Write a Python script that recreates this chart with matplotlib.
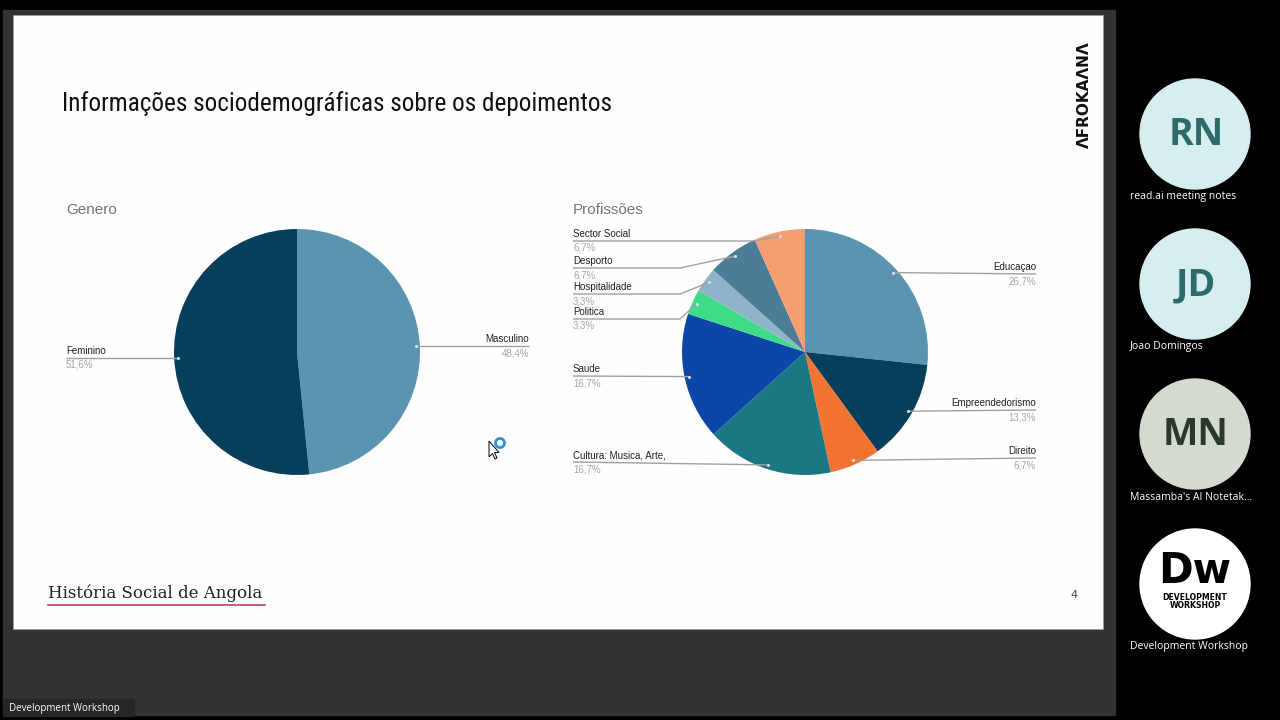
import matplotlib
matplotlib.use("Agg")
import matplotlib.pyplot as plt
from matplotlib.patches import Rectangle, Ellipse, Polygon, Circle
from matplotlib import font_manager
import numpy as np

# ---------------- data ----------------
genero_labels = ["Masculino", "Feminino"]
genero_values = [48.4, 51.6]
genero_pct = ["48,4%", "51,6%"]
genero_colors = ["#5b94b1", "#063f5c"]

prof_labels = ["Educaçao", "Empreendedorismo", "Direito", "Cultura: Musica, Arte,",
               "Saude", "Politica", "Hospitalidade", "Desporto", "Sector Social"]
prof_values = [26.7, 13.3, 6.7, 16.7, 16.7, 3.3, 3.3, 6.7, 6.7]
prof_pct = ["26,7%", "13,3%", "6,7%", "16,7%", "16,7%", "3,3%", "3,3%", "6,7%", "6,7%"]
prof_colors = ["#5b94b1", "#063f5c", "#f37430", "#1b7784", "#0c46a8",
               "#3fdc88", "#8fb4ca", "#4c7d96", "#f59e72"]

participants = ["read.ai meeting notes", "Joao Domingos", "Massamba's AI Notetak...", "Development Workshop"]
initials = ["RN", "JD", "MN", "Dw"]

title = "Informações sociodemográficas sobre os depoimentos"

# ---------------- layout ----------------
W, H = 1280, 720
fig = plt.figure(figsize=(12.8, 7.2), dpi=100)

bg = fig.add_axes([0, 0, 1, 1], zorder=0)
bg.set_xlim(0, W); bg.set_ylim(H, 0); bg.axis("off")
top = fig.add_axes([0, 0, 1, 1], zorder=10)
top.set_xlim(0, W); top.set_ylim(H, 0); top.axis("off")
top.patch.set_visible(False)

# screen backgrounds
bg.add_patch(Rectangle((0, 0), W, H, color="#000000"))
bg.add_patch(Rectangle((3, 10), 1112, 705, color="#323232"))
bg.add_patch(Rectangle((13, 15), 1090, 614, color="#fefefe", ec="#9a9a9a", lw=0.6))


# pick the narrowest installed family for the condensed slide title
def has_family(name):
    try:
        font_manager.findfont(font_manager.FontProperties(family=name), fallback_to_default=False)
        return True
    except Exception:
        return False


title_family = "Roboto"
for cand in ["Noto Sans ExtraCondensed", "Noto Sans Condensed", "Liberation Sans Narrow",
             "DejaVu Sans Condensed", "Roboto Condensed"]:
    if has_family(cand):
        title_family = cand
        break

ttl = bg.text(62, 104, title, fontsize=22, color="#111111",
              family=[title_family, "DejaVu Sans"], va="center", ha="left")
renderer = fig.canvas.get_renderer()
wpx = ttl.get_window_extent(renderer).width
target = 551.0
fs = 22 * target / wpx
ttl.set_fontsize(min(fs, 26))

# footer
bg.text(48, 593, "História Social de Angola", fontsize=12, color="#222222",
        family=["DejaVu Serif"], va="center", ha="left")
bg.plot([48, 265], [605, 605], color="#b8475f", lw=1.2)
bg.text(1074, 595, "4", fontsize=8, color="#444444", va="center", ha="center",
        family=["DejaVu Sans"])

# logo
bg.text(1084, 95, "ΛFROKAΛNΛ", rotation=90, fontsize=11, fontweight="bold",
        color="#111111", va="center", ha="center", family=["DejaVu Sans"])

# chart titles
for x, t in [(66, "Genero"), (573, "Profissões")]:
    bg.text(x, 210, t, fontsize=11, color="#757575", va="center", ha="left",
            family=["Liberation Sans", "DejaVu Sans"])

label_font = ["Liberation Sans", "DejaVu Sans"]


def make_pie(cx, cy, r, values, colors):
    ax = fig.add_axes([(cx - r) / W, (H - cy - r) / H, 2 * r / W, 2 * r / H], zorder=5)
    wedges, _ = ax.pie(values, colors=colors, startangle=90, counterclock=False,
                       radius=1.0, wedgeprops=dict(linewidth=0))
    ax.set_xlim(-1, 1); ax.set_ylim(-1, 1); ax.set_aspect("auto")
    ax.axis("off")
    return ax, wedges


def anchor(ax, w, rr=0.965):
    th = np.deg2rad((w.theta1 + w.theta2) / 2)
    p = ax.transData.transform((rr * np.cos(th), rr * np.sin(th)))
    return top.transData.inverted().transform(p)


def draw_label(name, pct, dot, ly, side, xl):
    dx, dy = dot
    if side == "L":
        if abs(dy - ly) > 4:
            knee = 680 if dx < 745 else dx - 25
            xs, ys = [xl, knee, dx], [ly, ly, dy]
        else:
            xs, ys = [xl, dx], [ly, dy]
        ha = "left"
    else:
        xs, ys = [dx, xl], [dy, ly]
        ha = "right"
    top.plot(xs, ys, color="#a0a0a0", lw=1.0, solid_capstyle="butt")
    top.plot([dx], [dy], "o", ms=2.2, color="#d7e1e6", mec="none")
    top.text(xl, ly - 2, name, fontsize=7, color="#222222", ha=ha, va="bottom", family=label_font)
    top.text(xl, ly + 2, pct, fontsize=7, color="#a6a6a6", ha=ha, va="top", family=label_font)


# Genero pie
gax, gw = make_pie(297, 352, 123, genero_values, genero_colors)
g_side = ["R", "L"]
g_x = [529, 66]
for i, w in enumerate(gw):
    d = anchor(gax, w)
    draw_label(genero_labels[i], genero_pct[i], d, d[1], g_side[i], g_x[i])

# Profissoes pie
pax, pw = make_pie(805, 352, 123, prof_values, prof_colors)
p_side = ["R", "R", "R", "L", "L", "L", "L", "L", "L"]
p_ly = [274, 410, 458, 462, 376, 319, 294, 268, 241]
for i, w in enumerate(pw):
    d = anchor(pax, w)
    draw_label(prof_labels[i], prof_pct[i], d, p_ly[i], p_side[i], 1036 if p_side[i] == "R" else 573)

# cursor
top.add_patch(Polygon([[489, 441], [489, 457], [492.5, 453.5], [495, 459], [497, 458],
                       [494.5, 452.5], [499, 452.5]], closed=True, fc="white", ec="black", lw=0.7))
top.add_patch(Circle((500, 443), 4.5, fc="none", ec="#2f8fd8", lw=2))

# participants panel
circ_colors = ["#d6eef0", "#d6eef0", "#d3dbd0", "#ffffff"]
text_colors = ["#2d6a6b", "#2d6a6b", "#2b3a28", "#000000"]
for i, name in enumerate(participants):
    cy = 134 + 150 * i
    bg.add_patch(Ellipse((1195, cy), 110, 110, color=circ_colors[i]))
    if i < 3:
        bg.text(1196, cy + 1, initials[i], fontsize=27, color=text_colors[i], ha="center",
                va="center", family=["Open Sans", "DejaVu Sans"], fontweight="bold")
    else:
        bg.text(1195, cy - 13, initials[i], fontsize=30, color="#000000", ha="center",
                va="center", family=["DejaVu Sans"], fontweight="bold")
        bg.text(1195, cy + 13, "DEVELOPMENT", fontsize=5.6, color="#000000", ha="center",
                va="center", family=["DejaVu Sans"], fontweight="bold")
        bg.text(1195, cy + 21, "WORKSHOP", fontsize=5.6, color="#000000", ha="center",
                va="center", family=["DejaVu Sans"], fontweight="bold")
    bg.text(1130, cy + 63, name, fontsize=7.5, color="#ffffff", ha="left", va="center",
            family=["Open Sans", "DejaVu Sans"])

# bottom-left name tag
bg.add_patch(Rectangle((3, 699), 131, 17, color="#262626"))
bg.text(9, 708, "Development Workshop", fontsize=7, color="#ffffff", ha="left", va="center",
        family=["Open Sans", "DejaVu Sans"])

fig.savefig("out.png", dpi=100)
